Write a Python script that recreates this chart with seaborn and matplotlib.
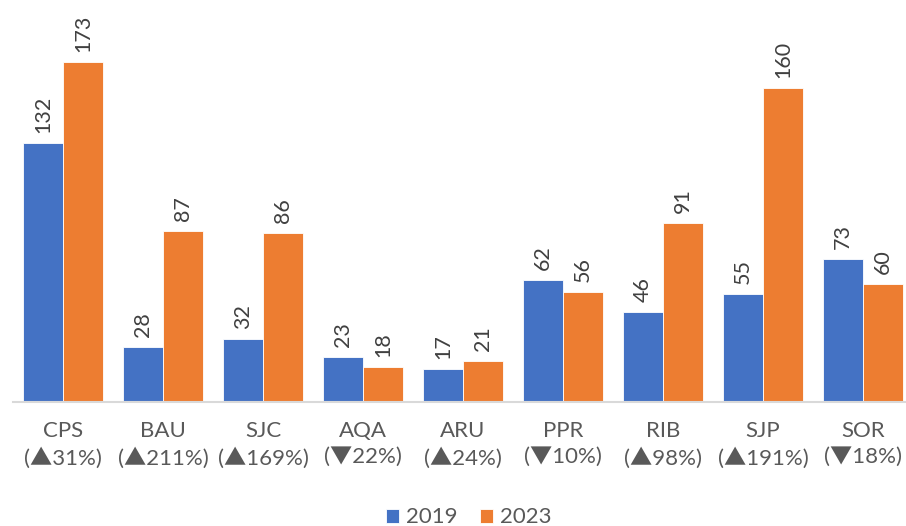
import pandas as pd
import seaborn as sns
import matplotlib.pyplot as plt

# data
sites = ['CPS', 'BAU', 'SJC', 'AQA', 'ARU', 'PPR', 'RIB', 'SJP', 'SOR']
changes = ['▲31%', '▲211%', '▲169%', '▼22%', '▲24%', '▼10%', '▲98%', '▲191%', '▼18%']
vals_2019 = [132, 28, 32, 23, 17, 62, 46, 55, 73]
vals_2023 = [173, 87, 86, 18, 21, 56, 91, 160, 60]
years = ['2019', '2023']

df = pd.DataFrame({'site': sites * 2,
                   'year': ['2019'] * len(sites) + ['2023'] * len(sites),
                   'value': vals_2019 + vals_2023})

sns.set_style('white')
# Lato has no triangles, the CJK font supplies wide ones
plt.rcParams['font.family'] = ['Lato', 'Noto Sans CJK SC', 'DejaVu Sans']
txt = '#595959'

fig = plt.figure(figsize=(9.06, 5.26), dpi=100)
ax = fig.add_axes([13 / 906, 1 - 402 / 526, 893 / 906, 393 / 526])

sns.barplot(data=df, x='site', y='value', hue='year', hue_order=years,
            palette=['#4472C4', '#ED7D31'], width=0.8, saturation=1,
            edgecolor='white', linewidth=0.6, ax=ax)

for cont in ax.containers:
    ax.bar_label(cont, rotation=90, padding=7, fontsize=15.5, color='#404040')

ax.set_ylim(0, 200)
ax.set_xlim(-0.5, 8.43)
ax.set_yticks([])
ax.set_xlabel('')
ax.set_ylabel('')
ax.set_xticks(range(len(sites)))
ax.set_xticklabels([f'{s}\n({c})' for s, c in zip(sites, changes)],
                   fontsize=16, color=txt, linespacing=1.35)
ax.tick_params(axis='x', length=0, pad=14)
for side in ['top', 'right', 'left']:
    ax.spines[side].set_visible(False)
ax.spines['bottom'].set_color('#D9D9D9')
ax.spines['bottom'].set_linewidth(1.5)

ax.legend(loc='lower center', bbox_to_anchor=(0.51, -0.37), ncol=2,
          frameon=False, fontsize=16, handlelength=0.6, handleheight=0.6,
          handletextpad=0.3, columnspacing=1.0, labelcolor=txt)

plt.savefig('out.png', dpi=100)
